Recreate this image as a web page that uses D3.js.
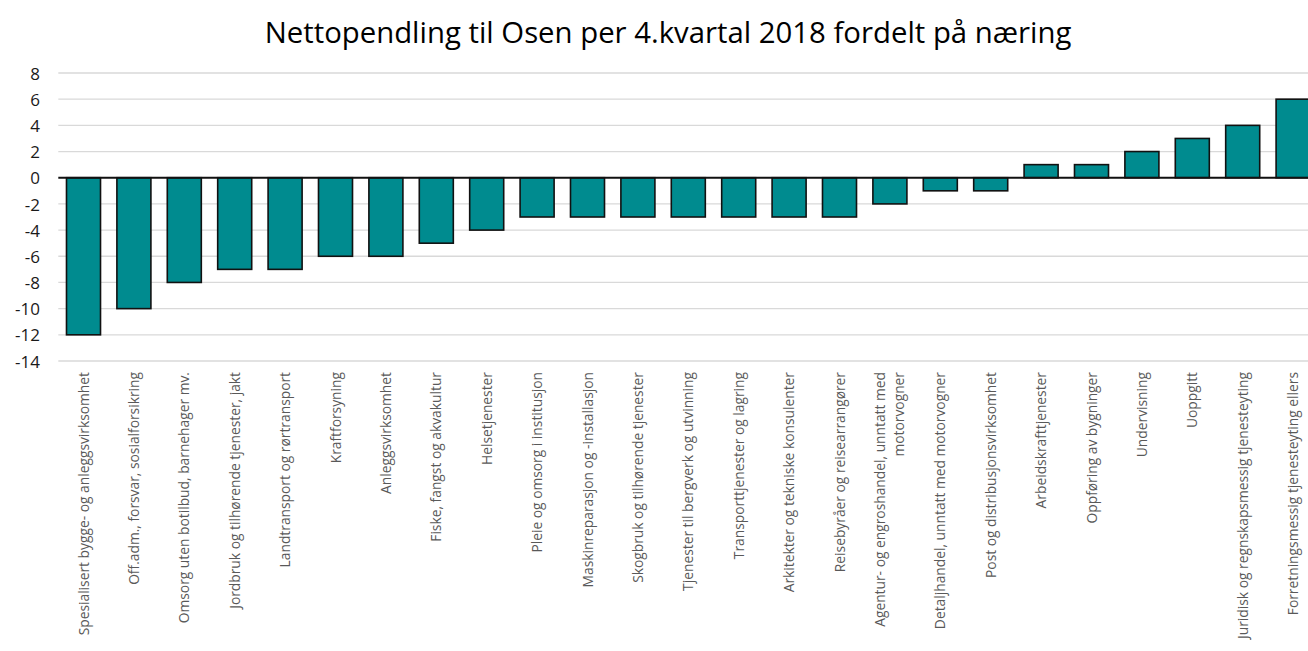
<!DOCTYPE html>
<html><head><meta charset="utf-8">
<script src="https://cdn.jsdelivr.net/npm/d3@7"></script>
<style>html,body{margin:0;padding:0;background:#fff;overflow:hidden}</style>
</head><body>
<svg id="chart" width="1308" height="651"></svg>
<script>
const title = "Nettopendling til Osen per 4.kvartal 2018 fordelt på næring";
const categories = [
  "Spesialisert bygge- og anleggsvirksomhet",
  "Off.adm., forsvar, sosialforsikring",
  "Omsorg uten botilbud, barnehager mv.",
  "Jordbruk og tilhørende tjenester, jakt",
  "Landtransport og rørtransport",
  "Kraftforsyning",
  "Anleggsvirksomhet",
  "Fiske, fangst og akvakultur",
  "Helsetjenester",
  "Pleie og omsorg i institusjon",
  "Maskinreparasjon og -installasjon",
  "Skogbruk og tilhørende tjenester",
  "Tjenester til bergverk og utvinning",
  "Transporttjenester og lagring",
  "Arkitekter og tekniske konsulenter",
  "Reisebyråer og reisearrangører",
  "Agentur- og engroshandel, unntatt med motorvogner",
  "Detaljhandel, unntatt med motorvogner",
  "Post og distribusjonsvirksomhet",
  "Arbeidskrafttjenester",
  "Oppføring av bygninger",
  "Undervisning",
  "Uoppgitt",
  "Juridisk og regnskapsmessig tjenesteyting",
  "Forretningsmessig tjenesteyting ellers"
];
const values = [-12,-10,-8,-7,-7,-6,-6,-5,-4,-3,-3,-3,-3,-3,-3,-3,-2,-1,-1,1,1,2,3,4,6];
const yTicks = [8,6,4,2,0,-2,-4,-6,-8,-10,-12,-14];
const labelLines = {"Agentur- og engroshandel, unntatt med motorvogner":["Agentur- og engroshandel, unntatt med","motorvogner"]};

const svg = d3.select("#chart");
const font = "'Open Sans', 'Noto Sans', sans-serif";
const plotLeft = 58.3, bandStep = 50.4, plotTop = 73, plotBottom = 361;

const x = d3.scaleBand().domain(categories).range([plotLeft, plotLeft + bandStep*categories.length]).paddingInner(0.325).paddingOuter(0.1625);
const y = d3.scaleLinear().domain([-14, 8]).range([plotBottom, plotTop]);

svg.append("g").selectAll("line").data(yTicks.filter(d=>d!==0)).join("line")
  .attr("x1", plotLeft).attr("x2", 1308)
  .attr("y1", d=>y(d)).attr("y2", d=>y(d))
  .attr("stroke", "#d9d9d9").attr("stroke-width", 1.3);

const yAxis = d3.axisLeft(y).tickValues(yTicks).tickSize(0).tickPadding(0);
const ga = svg.append("g").attr("transform", "translate(40,0)").call(yAxis);
ga.select(".domain").remove();
ga.selectAll("text").attr("font-family", font).attr("font-size", 17).attr("fill", "#1a1a1a")
  .attr("text-anchor", "end").attr("dy", "0.36em").text(d => d < 0 ? "-" + Math.abs(d) : String(d));

svg.append("g").selectAll("rect").data(values).join("rect")
  .attr("x", (d,i)=>x(categories[i]))
  .attr("width", x.bandwidth())
  .attr("y", d=>y(Math.max(0,d)))
  .attr("height", d=>Math.abs(y(d)-y(0)))
  .attr("fill", "#008B8F").attr("stroke", "#111").attr("stroke-width", 1.6);

svg.append("line").attr("x1", plotLeft).attr("x2", 1308).attr("y1", y(0)).attr("y2", y(0))
  .attr("stroke", "#111").attr("stroke-width", 2);

const lg = svg.append("g");
categories.forEach((c) => {
  const lines = labelLines[c] || [c];
  const cx = x(c) + x.bandwidth()/2;
  const n = lines.length, lh = 19;
  lines.forEach((ln, k) => {
    const off = (k - (n-1)/2) * lh;
    lg.append("text")
      .attr("transform", `translate(${cx + off + 5},372) rotate(-90)`)
      .attr("text-anchor", "end")
      .attr("font-family", font).attr("font-size", 13.8).attr("fill", "#595959")
      .text(ln);
  });
});

const t = svg.append("text").attr("x", 668).attr("y", 43).attr("text-anchor", "middle")
  .attr("font-family", font).attr("font-size", 27).attr("fill", "#000").text(title);
const w = t.node().getComputedTextLength();
t.attr("font-size", 27 * 807 / w);
</script>
</body></html>
